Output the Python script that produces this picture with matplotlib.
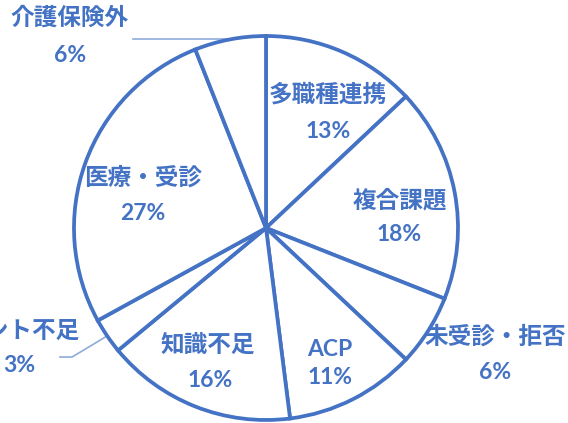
import numpy as np
import matplotlib
matplotlib.use('Agg')
import matplotlib.pyplot as plt

# データ（上から時計回り）
labels = ['多職種連携', '複合課題', '未受診・拒否', 'ACP', '知識不足',
          'ケアマネジメント不足', '医療・受診', '介護保険外']
values = [13, 18, 6, 11, 16, 3, 27, 6]

# ラベル位置（データ座標、名前と%）
name_pos = [(0.323, 0.693), (0.698, 0.146), (1.193, -0.568), (0.333, -0.635),
            (-0.302, -0.609), (-0.974, -0.536), (-0.641, 0.260), (-1.021, 1.094)]
pct_pos = [(0.323, 0.505), (0.693, -0.036), (1.193, -0.750), (0.333, -0.781),
           (-0.292, -0.792), (-1.286, -0.714), (-0.641, 0.078), (-1.021, 0.901)]

blue = '#4472C4'
light = '#8FAADC'

plt.rcParams['font.family'] = ['Noto Sans CJK JP', 'DejaVu Sans']

fig = plt.figure(figsize=(5.68, 4.23), dpi=100)
ax = fig.add_axes([0, 0, 1, 1])

wedges, _ = ax.pie(values, startangle=90, counterclock=False, radius=1,
                   colors=['white'] * len(values),
                   wedgeprops=dict(edgecolor=blue, linewidth=2.7))

ax.set_xlim(-266 / 192, (568 - 266) / 192)
ax.set_ylim((228 - 423) / 192, 228 / 192)
ax.set_aspect('auto')
ax.axis('off')

# 引き出し線
for i, w in enumerate(wedges):
    mid = np.deg2rad((w.theta1 + w.theta2) / 2)
    x0, y0 = np.cos(mid), np.sin(mid)
    if labels[i] == '介護保険外':
        ax.plot([x0, -0.693], [y0, y0], color=light, lw=1.2, zorder=0.5)
    elif labels[i] == 'ケアマネジメント不足':
        ax.plot([x0, -1.010, -1.073], [y0, -0.672, -0.672], color=light, lw=1.2, zorder=0.5)

for i, lab in enumerate(labels):
    nx, ny = name_pos[i]
    px, py = pct_pos[i]
    ha = 'right' if lab == 'ケアマネジメント不足' else 'center'
    fam = ['Lato', 'Noto Sans CJK JP'] if lab == 'ACP' else ['Noto Sans CJK JP', 'DejaVu Sans']
    ax.text(nx, ny, lab, ha=ha, va='center', fontsize=17 if lab != 'ACP' else 16.5,
            color=blue, fontweight='bold', family=fam, zorder=3)
    ax.text(px, py, f'{values[i]}%', ha='center', va='center', fontsize=16.5,
            color=blue, fontweight='bold', family=['Lato', 'DejaVu Sans'], zorder=3)

fig.savefig('out.png', dpi=100)
